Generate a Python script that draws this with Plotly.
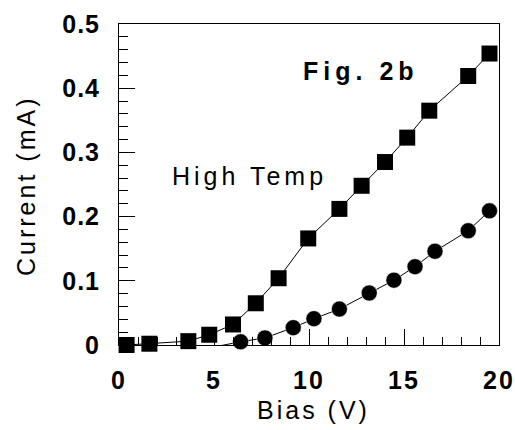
import plotly.graph_objects as go

# High temperature, squares
sq_bias = [0.4, 1.6, 3.65, 4.75, 6.0, 7.2, 8.4, 9.96, 11.6, 12.77, 14.0, 15.17, 16.33, 18.38, 19.5]
sq_current = [0.0, 0.002, 0.006, 0.016, 0.032, 0.065, 0.104, 0.166, 0.212, 0.248, 0.285, 0.323, 0.365, 0.419, 0.454]

# circles
ci_bias = [4.0, 5.17, 6.4, 7.68, 9.17, 10.26, 11.6, 13.17, 14.47, 15.58, 16.63, 18.38, 19.5]
ci_current = [-0.003, -0.002, 0.005, 0.011, 0.027, 0.041, 0.056, 0.081, 0.101, 0.122, 0.146, 0.178, 0.209]

x_ticks = [0, 5, 10, 15, 20]
x_ticklabels = ["0", "5", "10", "15", "20"]
y_ticks = [0, 0.1, 0.2, 0.3, 0.4, 0.5]
y_ticklabels = ["0", "0.1", "0.2", "0.3", "0.4", "0.5"]

x_title = "Bias (V)"
y_title = "Current (mA)"

def sp(t, px):
    return "<span style='letter-spacing:%spx'>%s</span>" % (px, t)

fig = go.Figure()
fig.add_trace(go.Scatter(x=sq_bias, y=sq_current, mode="lines+markers",
                         line=dict(color="black", width=1),
                         marker=dict(symbol="square", size=16, color="black"),
                         cliponaxis=False, showlegend=False))
fig.add_trace(go.Scatter(x=ci_bias, y=ci_current, mode="lines+markers",
                         line=dict(color="black", width=1),
                         marker=dict(symbol="circle", size=16, color="black",
                                     line=dict(color="white", width=0.5)),
                         cliponaxis=False, showlegend=False))

font_family = "Liberation Sans, Arial, sans-serif"
L, R, T, B = 119, 16, 24, 85
W, H = 515, 430
pw, ph = W - L - R, H - T - B

fig.update_layout(
    width=W, height=H,
    margin=dict(l=L, r=R, t=T, b=B),
    paper_bgcolor="white", plot_bgcolor="white",
    font=dict(family=font_family, color="black"),
    xaxis=dict(range=[0, 20], tickmode="array", tickvals=x_ticks,
               ticktext=[sp(t, 2) for t in x_ticklabels],
               tickfont=dict(size=25, family=font_family, weight="bold"),
               ticklabelstandoff=13,
               ticks="inside", ticklen=16, tickwidth=1, tickcolor="black",
               minor=dict(dtick=1, ticks="inside", ticklen=8, tickwidth=1, tickcolor="black"),
               showline=True, linecolor="black", linewidth=1, mirror=True,
               showgrid=False, zeroline=False, automargin=False),
    yaxis=dict(range=[0, 0.5], tickmode="array", tickvals=y_ticks,
               ticktext=[sp(t, 1) for t in y_ticklabels],
               tickfont=dict(size=25, family=font_family, weight="bold"),
               ticklabelstandoff=13,
               ticks="inside", ticklen=16, tickwidth=1, tickcolor="black",
               minor=dict(dtick=0.02, ticks="inside", ticklen=9, tickwidth=1, tickcolor="black"),
               showline=True, linecolor="black", linewidth=1, mirror=True,
               showgrid=False, zeroline=False, automargin=False),
    annotations=[
        dict(x=(313 - L) / pw, y=-(410 - T - ph) / ph, xref="paper", yref="paper",
             text=sp(x_title, 3), showarrow=False, font=dict(size=25),
             xanchor="center", yanchor="middle"),
        dict(x=-(L - 26) / pw, y=1 - (186 - T) / ph, xref="paper", yref="paper",
             text=sp(y_title, 3), showarrow=False, font=dict(size=25), textangle=-90,
             xanchor="center", yanchor="middle"),
        dict(x=12.75, y=0.427, xref="x", yref="y", text=sp("<b>Fig. 2b</b>", 5),
             showarrow=False, font=dict(size=25), xanchor="center", yanchor="middle"),
        dict(x=6.85, y=0.264, xref="x", yref="y", text=sp("High Temp", 4),
             showarrow=False, font=dict(size=25), xanchor="center", yanchor="middle"),
    ],
)

fig.write_html("out.html", config={"displayModeBar": False},
               post_script="document.body.style.margin='0';")
